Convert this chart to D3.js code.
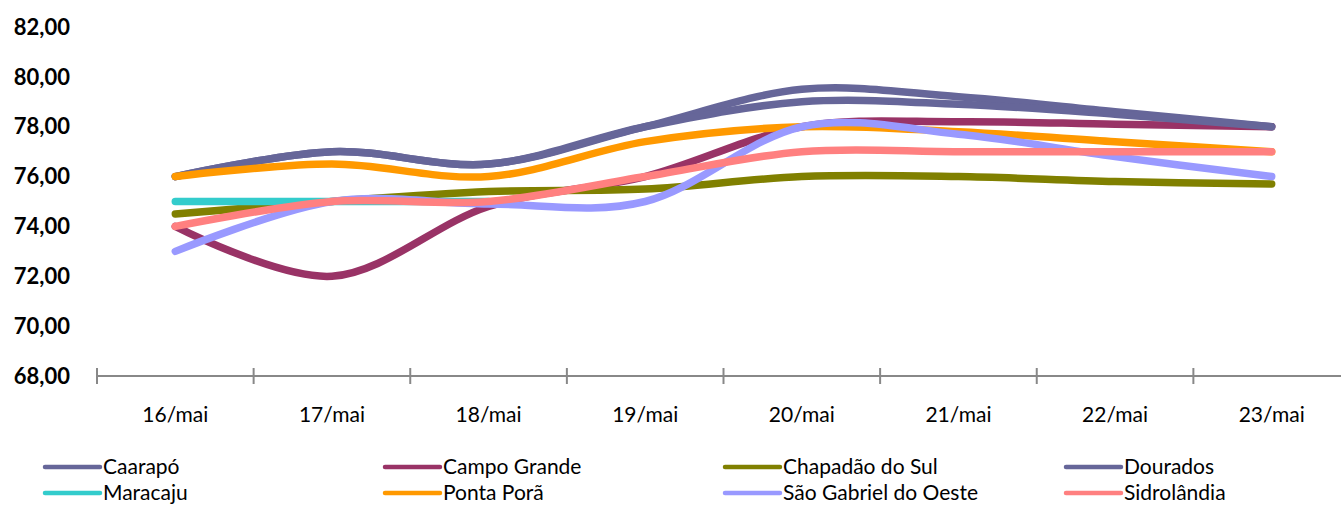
<!DOCTYPE html>
<html><head><meta charset="utf-8">
<script src="https://cdn.jsdelivr.net/npm/d3@7"></script>
<style>
html,body{margin:0;padding:0;background:#fff;}
svg{display:block;}
text{font-family:Lato,"Noto Sans",sans-serif;fill:#000;}
</style></head>
<body>
<svg id="chart" width="1341" height="507"></svg>
<script>
const categories = ["16/mai","17/mai","18/mai","19/mai","20/mai","21/mai","22/mai","23/mai"];
const seriesNames = ["Caarapó","Campo Grande","Chapadão do Sul","Dourados","Maracaju","Ponta Porã","São Gabriel do Oeste","Sidrolândia"];
const seriesColors = ["#666699","#993366","#808000","#666699","#33CCCC","#FF9900","#9999FF","#FF8080"];
const caarapo      = [76, 77, 76.5, 78, 79.5, 79.2, 78.6, 78];
const campoGrande  = [74, 72, 74.8, 76, 78, 78.2, 78.1, 78];
const chapadao     = [74.5, 75, 75.4, 75.5, 76, 76, 75.8, 75.7];
const dourados     = [76, 77, 76.5, 78, 79, 78.9, 78.5, 78];
const maracaju     = [75, 75, 75, null, null, null, null, null];
const pontaPora    = [76, 76.5, 76, 77.4, 78, 77.8, 77.4, 77];
const saoGabriel   = [73, 75, 74.9, 75, 78, 77.7, 76.8, 76];
const sidrolandia  = [74, 75, 75, 76, 77, 77, 77, 77];
const seriesValues = [caarapo, campoGrande, chapadao, dourados, maracaju, pontaPora, saoGabriel, sidrolandia];
const yTicks = [68, 70, 72, 74, 76, 78, 80, 82];

const svg = d3.select("#chart");
const x = d3.scaleBand().domain(categories).range([97, 1350]);
const y = d3.scaleLinear().domain([68, 82]).range([376, 27]);
const fmt = v => d3.format(".2f")(v).replace(".", ",");

// y labels
svg.append("g").selectAll("text").data(yTicks).join("text")
  .attr("x", 70).attr("y", d => y(d)).attr("dy", "0.35em")
  .attr("text-anchor", "end").style("font-weight", "bold").style("font-size", "22px")
  .text(fmt);

// x axis
svg.append("line").attr("x1", 97).attr("x2", 1341).attr("y1", 376).attr("y2", 376)
  .attr("stroke", "#888").attr("stroke-width", 2);
const boundaries = categories.map(c => x(c)).concat([x(categories[categories.length-1]) + x.bandwidth()]);
svg.append("g").selectAll("line").data(boundaries).join("line")
  .attr("x1", d => d).attr("x2", d => d).attr("y1", 368).attr("y2", 384)
  .attr("stroke", "#888").attr("stroke-width", 2);
svg.append("g").selectAll("text").data(categories).join("text")
  .attr("x", d => x(d) + x.bandwidth()/2).attr("y", 415).attr("dy", "0.35em")
  .attr("text-anchor", "middle").style("font-size", "21px").text(d => d);

// lines
const line = d3.line()
  .defined(d => d != null)
  .x((d, i) => x(categories[i]) + x.bandwidth()/2)
  .y(d => y(d))
  .curve(d3.curveCardinal.tension(0));
svg.append("g").selectAll("path").data(seriesValues).join("path")
  .attr("d", d => line(d))
  .attr("fill", "none")
  .attr("stroke", (d, i) => seriesColors[i])
  .attr("stroke-width", 7.5)
  .attr("stroke-linecap", "round").attr("stroke-linejoin", "round");

// legend
const legX = [45, 385, 725, 1066];
const legY = [467, 493];
const leg = svg.append("g").selectAll("g").data(seriesNames).join("g")
  .attr("transform", (d, i) => `translate(${legX[i % 4]},${legY[Math.floor(i / 4)]})`);
leg.append("line").attr("x1", 0).attr("x2", 55).attr("y1", 0).attr("y2", 0)
  .attr("stroke", (d, i) => seriesColors[i]).attr("stroke-width", 4.5).attr("stroke-linecap", "round");
leg.append("text").attr("x", 58).attr("y", 0).attr("dy", "0.35em")
  .style("font-size", "21px").text(d => d);
</script>
</body></html>
